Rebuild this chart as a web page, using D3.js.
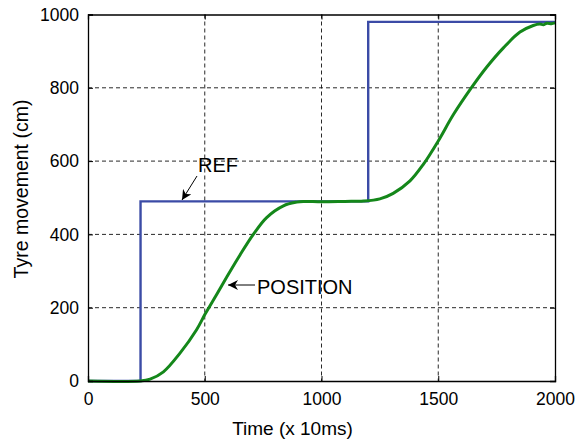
<!DOCTYPE html>
<html><head><meta charset="utf-8">
<script src="https://cdn.jsdelivr.net/npm/d3@7"></script>
<style>body{margin:0;background:#fff}svg{display:block}text{font-family:"Liberation Sans",Arial,sans-serif;fill:#000}</style>
</head><body><svg id="c" width="580" height="444"></svg>
<script>
const xTicks = [0, 500, 1000, 1500, 2000];
const yTicks = [0, 200, 400, 600, 800, 1000];
const refT = [0, 225, 225, 1200, 1200, 2000];
const refV = [0, 0, 490, 490, 980, 980];
const posT = [0, 223, 266, 323, 394, 465, 501, 551, 600, 651, 708, 765, 837, 894, 922, 1000, 1100, 1180, 1250, 1307, 1379, 1436, 1500, 1565, 1643, 1707, 1779, 1850, 1907, 1935, 1950, 1965, 1985, 2000];
const posV = [0, 0, 5, 25, 76, 140, 182, 236, 290, 344, 400, 446, 478, 488, 490, 489, 490, 491, 497, 512, 546, 591, 655, 727, 801, 856, 909, 952, 970, 974, 972, 976, 975, 977];

const svg = d3.select("#c");
const L = 88, R = 555, T = 14.5, B = 381;
const x = d3.scaleLinear().domain([0, 2000]).range([L, R]);
const y = d3.scaleLinear().domain([0, 1000]).range([B, T]);

// grid
const g = svg.append("g");
g.selectAll("line.gx").data(xTicks.slice(1, -1)).join("line")
  .attr("x1", d => x(d)).attr("x2", d => x(d)).attr("y1", T).attr("y2", B)
  .attr("stroke", "#111").attr("stroke-width", 0.9).attr("stroke-dasharray", "4,3");
g.selectAll("line.gy").data(yTicks.slice(1, -1)).join("line")
  .attr("y1", d => y(d)).attr("y2", d => y(d)).attr("x1", L).attr("x2", R)
  .attr("stroke", "#111").attr("stroke-width", 0.9).attr("stroke-dasharray", "4,3");

// lines
const ref = refT.map((t, i) => [t, refV[i]]);
const pos = posT.map((t, i) => [t, posV[i]]);
svg.append("path").datum(ref)
  .attr("d", d3.line().x(d => x(d[0])).y(d => y(d[1])))
  .attr("fill", "none").attr("stroke", "#3b4ba6").attr("stroke-width", 2.4);
svg.append("path").datum(pos)
  .attr("d", d3.line().x(d => x(d[0])).y(d => y(d[1])).curve(d3.curveCatmullRom.alpha(0.5)))
  .attr("fill", "none").attr("stroke", "#14871a").attr("stroke-width", 3);

// axes (ticks inward)
const ax = svg.append("g").attr("transform", `translate(0,${B})`)
  .call(d3.axisBottom(x).tickValues(xTicks).tickSize(-5).tickPadding(12).tickFormat(d3.format("d")));
const ay = svg.append("g").attr("transform", `translate(${L},0)`)
  .call(d3.axisLeft(y).tickValues(yTicks).tickSize(-5).tickPadding(9).tickFormat(d3.format("d")));
const axT = svg.append("g").attr("transform", `translate(0,${T})`)
  .call(d3.axisTop(x).tickValues(xTicks).tickSize(-5).tickFormat(""));
const ayR = svg.append("g").attr("transform", `translate(${R},0)`)
  .call(d3.axisRight(y).tickValues(yTicks).tickSize(-5).tickFormat(""));
[ax, ay, axT, ayR].forEach(a => {
  a.select(".domain").attr("stroke", "#000").attr("stroke-width", 1.3);
  a.selectAll(".tick line").attr("stroke", "#000");
  a.selectAll("text").style("font-size", "17.5px").attr("fill", "#000");
});

// axis labels
svg.append("text").attr("x", (L + R) / 2 - 29).attr("y", 435).attr("text-anchor", "middle")
  .style("font-size", "19px").text("Time (x 10ms)");
svg.append("text").attr("transform", `translate(28,189) rotate(-90)`)
  .attr("text-anchor", "middle").style("font-size", "19.5px").text("Tyre movement (cm)");

// annotations
const defs = svg.append("defs");
defs.append("marker").attr("id", "ah").attr("viewBox", "0 0 10 10").attr("refX", 10).attr("refY", 5)
  .attr("markerWidth", 10).attr("markerHeight", 10).attr("markerUnits", "userSpaceOnUse").attr("orient", "auto")
  .append("path").attr("d", "M0,0 L10,5 L0,10 L3,5 Z").attr("fill", "#000");
svg.append("line").attr("x1", 197).attr("y1", 176).attr("x2", 182).attr("y2", 200)
  .attr("stroke", "#000").attr("stroke-width", 1).attr("marker-end", "url(#ah)");
svg.append("text").attr("x", 198).attr("y", 172).style("font-size", "20px").text("REF");
svg.append("line").attr("x1", 255).attr("y1", 285).attr("x2", 228).attr("y2", 285)
  .attr("stroke", "#000").attr("stroke-width", 1).attr("marker-end", "url(#ah)");
svg.append("text").attr("x", 257).attr("y", 294).style("font-size", "20px").text("POSITION");
</script></body></html>
